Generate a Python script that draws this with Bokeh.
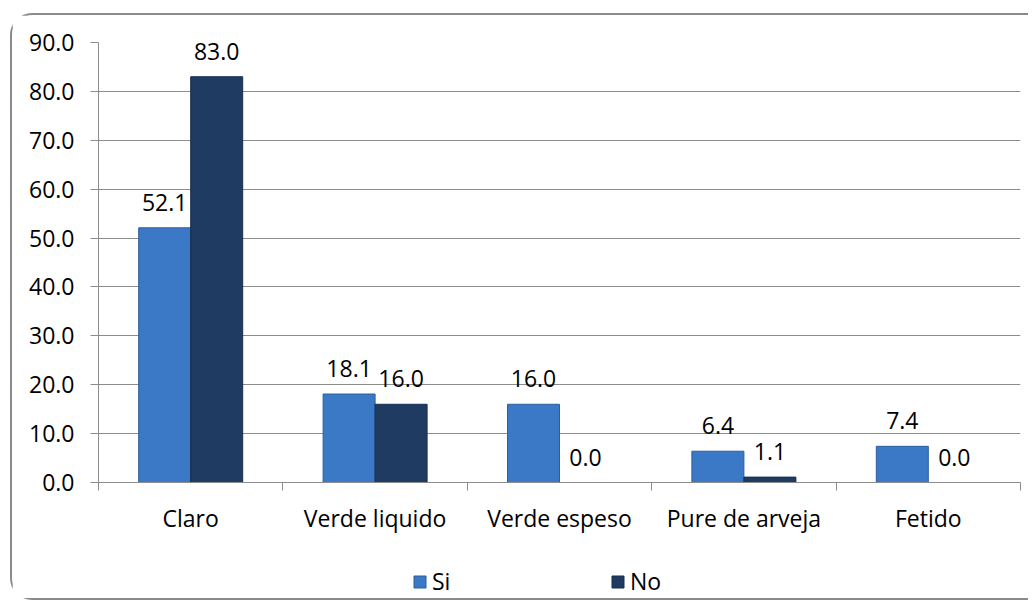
from bokeh.plotting import figure
from bokeh.layouts import column
from bokeh.models import (Range1d, FixedTicker, NumeralTickFormatter, Legend, LegendItem, ColumnDataSource)
from bokeh.core.properties import value
from bokeh.embed import file_html
from bokeh.resources import INLINE

categories = ["Claro", "Verde liquido", "Verde espeso", "Pure de arveja", "Fetido"]
si_values = [52.1, 18.1, 16.0, 6.4, 7.4]
no_values = [83.0, 16.0, 0.0, 1.1, 0.0]
series = ["Si", "No"]
y_ticks = [0, 10, 20, 30, 40, 50, 60, 70, 80, 90]

FONT = "Open Sans"
NUM_FS = "23px"
CAT_FS = "23px"
SI_COLOR = "#3B78C6"
NO_COLOR = "#1F3B62"
SI_LINE = "#2C5E9E"
NO_LINE = "#172E4D"
GRID = "#8C8C8C"

n = len(categories)
centers = [i + 0.5 for i in range(n)]
bw = 0.282

si_src = ColumnDataSource(dict(x=[c - bw / 2 for c in centers], y=si_values,
                               lab=["%.1f" % v for v in si_values]))
no_src = ColumnDataSource(dict(x=[c + bw / 2 for c in centers], y=no_values,
                               lab=["%.1f" % v for v in no_values]))

W = 1016
p = figure(width=W, height=521, output_backend="svg", toolbar_location=None,
           x_range=Range1d(0, n), y_range=Range1d(0, 90),
           min_border_left=86, min_border_right=8, min_border_top=27, min_border_bottom=52)
p.outline_line_color = None
p.background_fill_color = "white"
p.border_fill_color = "white"

p.vbar(x="x", top="y", width=bw, source=si_src, fill_color=SI_COLOR, line_color=SI_LINE, line_width=1)
p.vbar(x="x", top="y", width=bw, source=no_src, fill_color=NO_COLOR, line_color=NO_LINE, line_width=1)

for src in (si_src, no_src):
    p.text(x="x", y="y", text="lab", source=src, text_align="center", text_baseline="bottom",
           y_offset=-17, text_font=value(FONT), text_font_size=NUM_FS, text_color="black")

# grid
p.xgrid.grid_line_color = None
p.ygrid.grid_line_color = GRID
p.ygrid.grid_line_width = 1
p.ygrid.ticker = FixedTicker(ticks=y_ticks)

# y axis
p.yaxis.ticker = FixedTicker(ticks=y_ticks)
p.yaxis.formatter = NumeralTickFormatter(format="0.0")
p.yaxis.axis_line_color = GRID
p.yaxis.major_tick_line_color = GRID
p.yaxis.major_tick_out = 8
p.yaxis.major_tick_in = 0
p.yaxis.minor_tick_line_color = None
p.yaxis.major_label_standoff = 16
p.yaxis.major_label_text_font = FONT
p.yaxis.major_label_text_font_size = NUM_FS
p.yaxis.major_label_text_color = "black"

# x axis
p.xaxis.ticker = FixedTicker(ticks=centers, minor_ticks=list(range(n + 1)))
p.xaxis.major_label_overrides = {c: cat for c, cat in zip(centers, categories)}
p.xaxis.axis_line_color = GRID
p.xaxis.major_tick_line_color = None
p.xaxis.major_tick_out = 8
p.xaxis.major_tick_in = 0
p.xaxis.minor_tick_line_color = GRID
p.xaxis.minor_tick_out = 8
p.xaxis.minor_tick_in = 0
p.xaxis.major_label_standoff = 11
p.xaxis.major_label_text_font = FONT
p.xaxis.major_label_text_font_size = CAT_FS
p.xaxis.major_label_text_color = "black"

# legend strip (its renderers share the bar data but are hidden; only their legend swatches show)
q = figure(width=W, height=62, output_backend="svg", toolbar_location=None,
           x_axis_type=None, y_axis_type=None, x_range=Range1d(0, n), y_range=Range1d(0, 90),
           min_border=0)
q.outline_line_color = None
q.xgrid.visible = False
q.ygrid.visible = False
q.background_fill_color = "white"
q.border_fill_color = "white"
l_si = q.vbar(x="x", top="y", width=bw, source=si_src, fill_color=SI_COLOR, line_color=SI_LINE,
              visible=False)
l_no = q.vbar(x="x", top="y", width=bw, source=no_src, fill_color=NO_COLOR, line_color=NO_LINE,
              visible=False)
legend = Legend(items=[LegendItem(label=series[0], renderers=[l_si]),
                       LegendItem(label=series[1], renderers=[l_no])],
                orientation="horizontal", location=(314, 1),
                glyph_width=15, glyph_height=15, label_standoff=5, spacing=158,
                label_text_font=FONT, label_text_font_size=CAT_FS, label_text_color="black",
                inactive_fill_alpha=0, inactive_fill_color="white",
                border_line_color=None, background_fill_alpha=0, padding=0, margin=0)
q.add_layout(legend, "center")

layout = column(p, q, spacing=0,
                styles={"border-left": "2px solid #8a8a8a", "border-top": "2px solid #8a8a8a",
                        "border-bottom": "2px solid #8a8a8a",
                        "border-top-left-radius": "22px", "border-bottom-left-radius": "22px",
                        "position": "relative", "left": "10px", "top": "13px",
                        "background-color": "white"})

open("out.html", "w").write(file_html(layout, INLINE))
